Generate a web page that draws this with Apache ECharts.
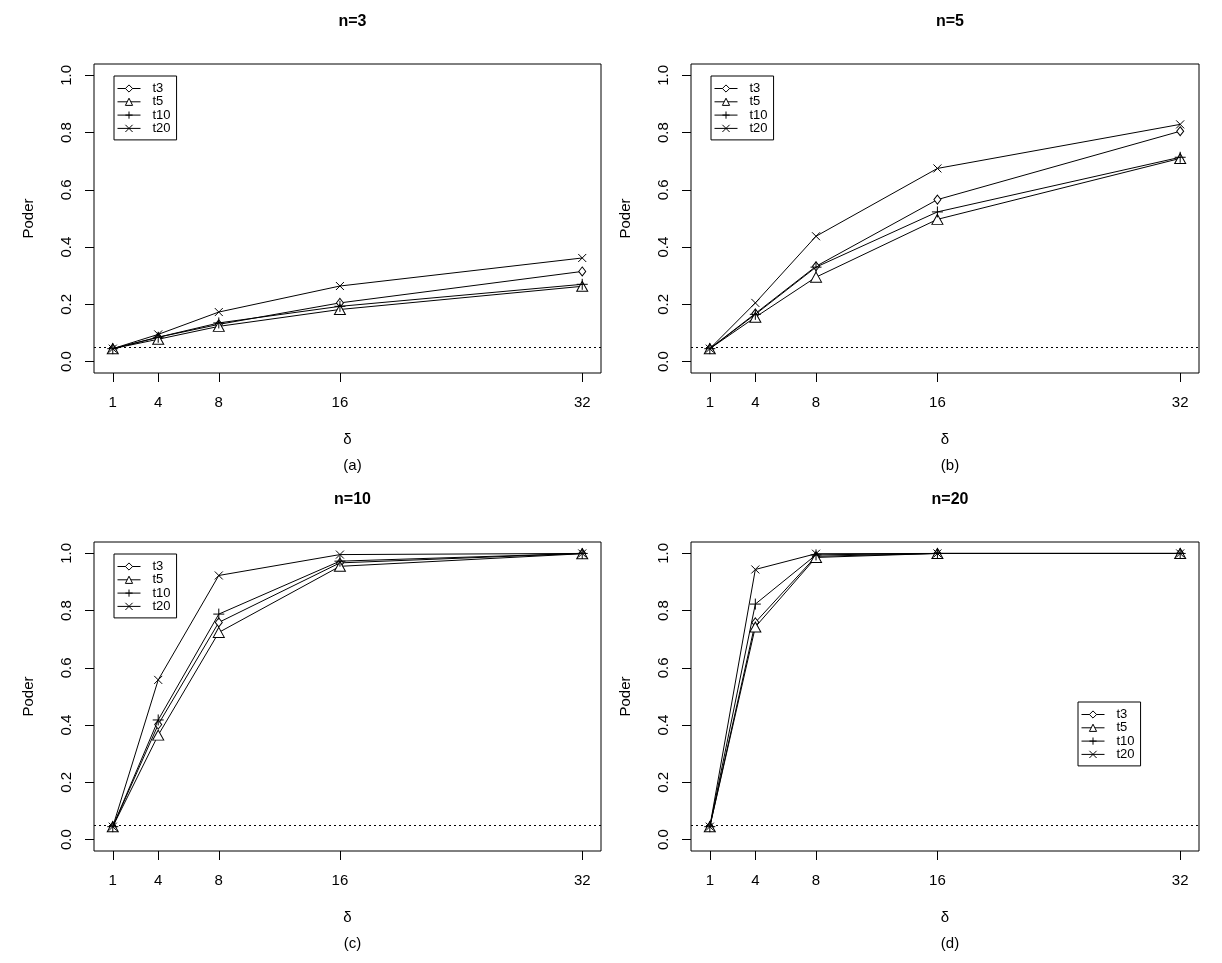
<!DOCTYPE html>
<html>
<head>
<meta charset="utf-8">
<script src="https://cdn.jsdelivr.net/npm/echarts@6/dist/echarts.min.js"></script>
<style>
  html, body { margin: 0; padding: 0; background: #fff; }
  #chart { width: 1222px; height: 963px; }
</style>
</head>
<body>
<div id="chart"></div>
<script>
// delta values on the x axis
const deltas = [1, 4, 8, 16, 32];
const yTicks = [0, 0.2, 0.4, 0.6, 0.8, 1.0];
const seriesNames = ['t3', 't5', 't10', 't20'];
const panelTitles = ['n=3', 'n=5', 'n=10', 'n=20'];
const panelTags = ['(a)', '(b)', '(c)', '(d)'];

// power values, one array per distribution and sample size
const n3_t3  = [0.045, 0.085, 0.130, 0.205, 0.315];
const n3_t5  = [0.045, 0.078, 0.123, 0.182, 0.263];
const n3_t10 = [0.045, 0.085, 0.135, 0.193, 0.270];
const n3_t20 = [0.045, 0.095, 0.173, 0.264, 0.362];

const n5_t3  = [0.045, 0.168, 0.333, 0.566, 0.805];
const n5_t5  = [0.045, 0.155, 0.295, 0.497, 0.710];
const n5_t10 = [0.045, 0.165, 0.330, 0.523, 0.714];
const n5_t20 = [0.045, 0.205, 0.438, 0.675, 0.829];

const n10_t3  = [0.045, 0.402, 0.759, 0.967, 1.000];
const n10_t5  = [0.045, 0.365, 0.724, 0.955, 0.999];
const n10_t10 = [0.045, 0.418, 0.788, 0.973, 1.000];
const n10_t20 = [0.045, 0.558, 0.923, 0.996, 1.000];

const n20_t3  = [0.045, 0.759, 0.990, 1.000, 1.000];
const n20_t5  = [0.045, 0.743, 0.986, 1.000, 1.000];
const n20_t10 = [0.045, 0.823, 0.995, 1.000, 1.000];
const n20_t20 = [0.045, 0.944, 0.999, 1.000, 1.000];

const alpha = 0.05;

const panels = [
  [n3_t3, n3_t5, n3_t10, n3_t20],
  [n5_t3, n5_t5, n5_t10, n5_t20],
  [n10_t3, n10_t5, n10_t10, n10_t20],
  [n20_t3, n20_t5, n20_t10, n20_t20]
];

const FONT = 'Liberation Sans, Arial, sans-serif';

// box positions (px) for each panel
const boxes = [
  { left: 94,  top: 64,  width: 507, height: 309 },
  { left: 691, top: 64,  width: 508, height: 309 },
  { left: 94,  top: 542, width: 507, height: 309 },
  { left: 691, top: 542, width: 508, height: 309 }
];
const legendPos = [
  { left: 114, top: 76 },
  { left: 711, top: 76 },
  { left: 114, top: 554 },
  { left: 1078, top: 702 }
];

const symbols = [
  { symbol: 'diamond', size: [7, 9] },
  { symbol: 'triangle', size: [11, 10] },
  { symbol: 'path://M5,0L5,10M0,5L10,5', size: 11 },
  { symbol: 'path://M0,0L10,10M0,10L10,0', size: 8 }
];

const myChart = echarts.init(document.getElementById('chart'));

const grid = [], xAxis = [], yAxis = [], series = [], legend = [], title = [];

boxes.forEach((b, i) => {
  grid.push({
    left: b.left, top: b.top, width: b.width, height: b.height,
    show: true, borderColor: '#000', borderWidth: 1, containLabel: false
  });
  xAxis.push({
    type: 'value', gridIndex: i, min: -0.24, max: 33.24,
    name: 'δ', nameLocation: 'middle', nameGap: 59,
    nameTextStyle: { fontFamily: FONT, fontSize: 15, color: '#000' },
    axisLine: { show: false, onZero: false },
    axisTick: { show: true, inside: false, length: 9, customValues: deltas, lineStyle: { color: '#000' } },
    axisLabel: { customValues: deltas, margin: 22, fontFamily: FONT, fontSize: 15, color: '#000' },
    splitLine: { show: false }
  });
  yAxis.push({
    type: 'value', gridIndex: i, min: -0.04, max: 1.04,
    name: 'Poder', nameLocation: 'middle', nameGap: 58, nameRotate: 90,
    nameTextStyle: { fontFamily: FONT, fontSize: 15, color: '#000' },
    axisLine: { show: false, onZero: false },
    axisTick: { show: true, inside: false, length: 9, customValues: yTicks, lineStyle: { color: '#000' } },
    axisLabel: {
      customValues: yTicks, rotate: 90, margin: 20,
      formatter: v => v.toFixed(1),
      fontFamily: FONT, fontSize: 15, color: '#000'
    },
    splitLine: { show: false }
  });

  panels[i].forEach((vals, k) => {
    const s = {
      name: seriesNames[k], type: 'line', xAxisIndex: i, yAxisIndex: i,
      data: deltas.map((d, j) => [d, vals[j]]),
      symbol: symbols[k].symbol, symbolSize: symbols[k].size,
      showSymbol: true,
      lineStyle: { color: '#000', width: 1 },
      itemStyle: { color: '#fff', borderColor: '#000', borderWidth: 1 },
      z: 2 + k
    };
    if (k === 0) {
      s.markLine = {
        silent: true, symbol: 'none', label: { show: false },
        lineStyle: { type: [2, 3], color: '#000', width: 1 },
        data: [{ yAxis: alpha }]
      };
    }
    series.push(s);
  });

  legend.push({
    data: seriesNames, orient: 'vertical',
    left: legendPos[i].left, top: legendPos[i].top,
    itemWidth: 23, itemHeight: 9, itemGap: 0.3,
    padding: [6, 6, 5, 3],
    borderColor: '#000', borderWidth: 1, borderRadius: 0, backgroundColor: '#fff',
    selectedMode: false,
    lineStyle: { width: 1, color: '#000' },
    itemStyle: { color: '#fff', borderColor: '#000', borderWidth: 1 },
    textStyle: { fontFamily: FONT, fontSize: 13, lineHeight: 12, color: '#000', padding: [0, 0, 0, 7] }
  });

  const cx = b.left + b.width / 2;
  title.push({
    text: panelTitles[i], left: cx, top: b.top - 55, textAlign: 'center',
    textStyle: { fontFamily: FONT, fontSize: 16, fontWeight: 'bold', color: '#000' }
  });
  title.push({
    text: panelTags[i], left: cx, top: b.top + b.height + 80, textAlign: 'center',
    textStyle: { fontFamily: FONT, fontSize: 15, fontWeight: 'normal', color: '#000' }
  });
});

myChart.setOption({
  animation: false,
  backgroundColor: '#fff',
  title, grid, xAxis, yAxis, legend, series
});
</script>
</body>
</html>
